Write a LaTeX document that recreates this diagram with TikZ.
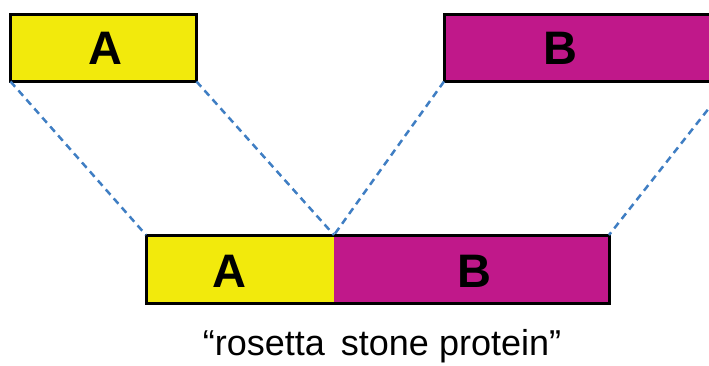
\documentclass[tikz,border=0pt]{standalone}
\usepackage{fontspec}
\setmainfont{Liberation Sans}
\definecolor{ayel}{HTML}{F2EA0C}
\definecolor{bmag}{HTML}{C0188A}
\definecolor{dblue}{HTML}{3F7EC3}
\begin{document}
\begin{tikzpicture}[x=1pt,y=-1pt,
  box/.style={draw=black,line width=3pt,inner sep=0pt,outer sep=0pt},
  part/.style={inner sep=0pt,outer sep=0pt,minimum height=68pt},
  letter/.style={inner sep=0pt,font=\fontsize{47}{47}\selectfont\bfseries},
  link/.style={draw=dblue,line width=2.5pt,dash pattern=on 7pt off 5pt}]
\useasboundingbox (0,0) rectangle (709,365);
\begin{scope}
\clip (0,0) rectangle (709,365);
\node[box,fill=ayel,minimum width=186pt,minimum height=67pt] (ta) at (103.5,48) {};
\node[box,fill=bmag,minimum width=286pt,minimum height=67pt] (tb) at (587,48) {};
\node[part,fill=ayel,minimum width=188pt] (ba) at (240,269) {};
\node[part,fill=bmag,minimum width=275pt] (bb) at (471.5,269) {};
\draw[line width=3pt] (ba.north west) rectangle (bb.south east);
\draw[link] (ta.south west) -- (ba.north west);
\draw[link] (ta.south east) -- (ba.north east);
\draw[link] (tb.south west) -- (bb.north west);
\draw[link] (tb.south east) -- (bb.north east);
\end{scope}
\node[letter] (la) at (105.5,48) {A};
\node[letter] (lb) at (560,48) {B};
\node[letter] (lba) at (229,271) {A};
\node[letter] (lbb) at (474,271) {B};
\node[inner sep=0pt,font=\fontsize{36}{36}\selectfont] (cap) at (382,346) {“rosetta\, stone protein”};
\end{tikzpicture}
\end{document}
